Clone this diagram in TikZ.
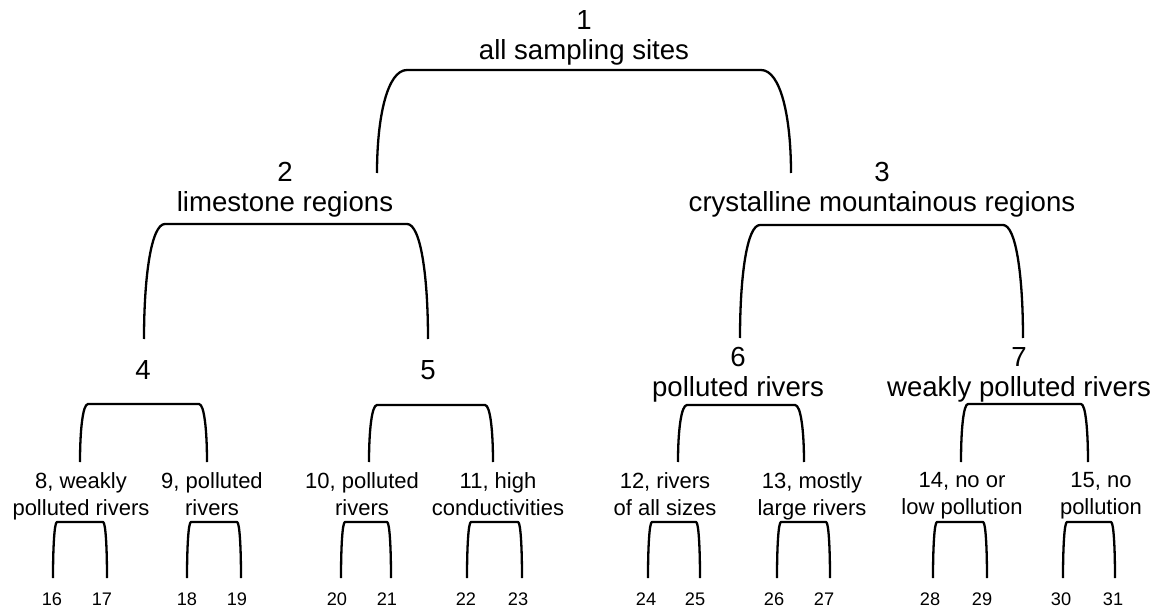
\documentclass[tikz,border=0pt]{standalone}
\usepackage{fontspec}
\setmainfont{Liberation Sans}
\usetikzlibrary{calc}
\tikzset{
  grp/.style={font=\fontsize{13.8}{15}\selectfont,align=center,anchor=north,inner sep=0pt},
  sub/.style={font=\fontsize{11}{13.5}\selectfont,align=center,anchor=north,inner sep=0pt},
  leaf/.style={font=\fontsize{9.1}{11}\selectfont,anchor=base,inner sep=0pt},
  brk/.style={line width=1.15pt,line join=round}
}
\newcommand{\Split}[5]{% parent, left leg end, right leg end, inset, drop below parent top
\draw[brk] let \p1=(#2), \p2=(#3), \p3=($(#1.north)+(0,#5)$) in
  (\p1) .. controls (\x1,{0.45*\y1+0.55*\y3}) and ({\x1+0.175*#4},\y3) .. ({\x1+0.5*#4},\y3)
  -- ({\x2-0.5*#4},\y3) .. controls ({\x2-0.175*#4},\y3) and (\x2,{0.45*\y2+0.55*\y3}) .. (\p2);
}

\begin{document}
\begin{tikzpicture}[x=0.5pt,y=-0.5pt]
\useasboundingbox (0,0) rectangle (1158,610);
% root and main regions
\node[grp] (n1) at (584,10) {1\\all sampling sites};
\node[grp] (n2) at (285,162) {2\\limestone regions};
\node[grp] (n3) at (882,162) {3\\crystalline mountainous regions};
\node[grp] (n4) at (143,360) {4};
\node[grp] (n5) at (428,360) {5};
\node[grp] (n6) at (738,347) {6\\polluted rivers};
\node[grp] (n7) at (1019,347) {7\\weakly polluted rivers};
% fourth level
\node[sub] (n8) at (81,472) {8, weakly\\polluted rivers};
\node[sub] (n9) at (212,472) {9, polluted\\rivers};
\node[sub] (n10) at (362,472) {10, polluted\\rivers};
\node[sub] (n11) at (498,472) {11, high\\conductivities};
\node[sub] (n12) at (665,472) {12, rivers\\of all sizes};
\node[sub] (n13) at (812,472) {13, mostly\\large rivers};
\node[sub] (n14) at (962,472) {14, no or\\low pollution};
\node[sub] (n15) at (1101,472) {15, no\\pollution};
% leaves
\foreach \x/\k in {52/16,102/17,187/18,237/19,337/20,387/21,466/22,518/23,
                   646/24,695/25,774/26,824/27,930/28,982/29,1061/30,1113/31}
  \node[leaf] (n\k) at (\x,605) {\k};
% brackets
\Split{n1}{$(n2.north)+(92,11)$}{$(n3.north)+(-91,11)$}{30}{60}
\Split{n2}{$(n4.north)+(1,-21)$}{$(n5.north)+(0,-21)$}{21}{62}
\Split{n3}{$(n6.north)+(2,-9)$}{$(n7.north)+(4,-9)$}{20}{63}
\Split{n4}{$(n8.north)+(-1,-10)$}{$(n9.north)+(-5,-10)$}{8}{44}
\Split{n5}{$(n10.north)+(7,-10)$}{$(n11.north)+(-5,-10)$}{8}{45}
\Split{n6}{$(n12.north)+(13,-10)$}{$(n13.north)+(-8,-10)$}{9}{58}
\Split{n7}{$(n14.north)+(-1,-10)$}{$(n15.north)+(-13,-10)$}{7}{57}
\Split{n8}{$(n16.base)+(1,-27)$}{$(n17.base)+(5,-27)$}{4}{50}
\Split{n9}{$(n18.base)+(0,-27)$}{$(n19.base)+(4,-27)$}{4}{50}
\Split{n10}{$(n20.base)+(4,-27)$}{$(n21.base)+(4,-27)$}{4}{50}
\Split{n11}{$(n22.base)+(1,-27)$}{$(n23.base)+(4,-27)$}{4}{50}
\Split{n12}{$(n24.base)+(2,-27)$}{$(n25.base)+(5,-27)$}{4}{50}
\Split{n13}{$(n26.base)+(3,-27)$}{$(n27.base)+(6,-27)$}{4}{50}
\Split{n14}{$(n28.base)+(3,-27)$}{$(n29.base)+(5,-27)$}{4}{50}
\Split{n15}{$(n30.base)+(2,-27)$}{$(n31.base)+(2,-27)$}{4}{50}
\end{tikzpicture}
\end{document}
